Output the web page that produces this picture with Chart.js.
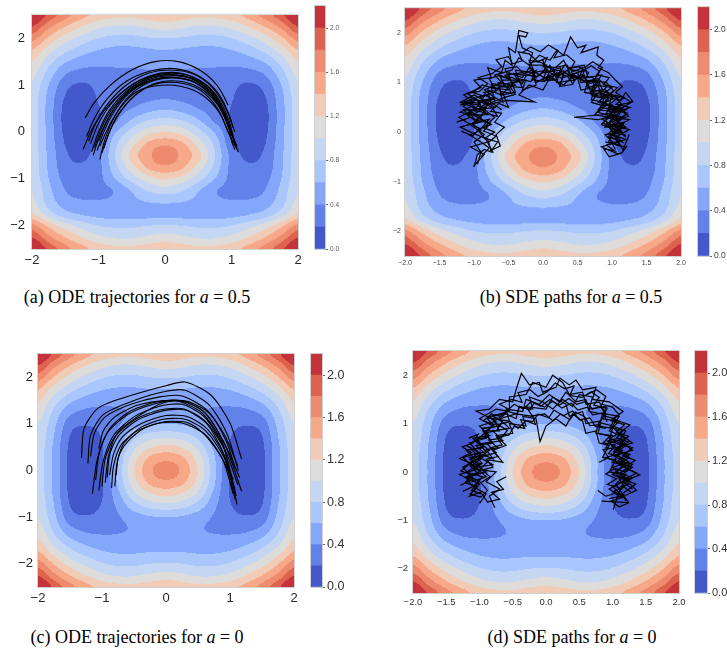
<!DOCTYPE html>
<html>
<head>
<meta charset="utf-8">
<script src="https://cdn.jsdelivr.net/npm/chart.js@4.4.0/dist/chart.umd.min.js"></script>
<style>
body { margin: 0; background: #fff; width: 727px; height: 663px; position: relative; overflow: hidden; }
canvas { position: absolute; }
.cap { position: absolute; font-family: "Liberation Serif", "Times New Roman", serif; font-size: 18px; line-height: 20px; color: #000; white-space: nowrap; transform: translateX(-50%); }
</style>
</head>
<body>
<canvas id="mainA" width="310" height="272" style="left:0;top:0"></canvas>
<canvas id="cbarA" width="45" height="272" style="left:310px;top:0"></canvas>
<canvas id="mainB" width="330" height="272" style="left:360px;top:0"></canvas>
<canvas id="cbarB" width="34" height="272" style="left:693px;top:0"></canvas>
<canvas id="mainC" width="305" height="270" style="left:0;top:340px"></canvas>
<canvas id="cbarC" width="50" height="270" style="left:306px;top:340px"></canvas>
<canvas id="mainD" width="330" height="270" style="left:360px;top:340px"></canvas>
<canvas id="cbarD" width="37" height="270" style="left:690px;top:340px"></canvas>
<div class="cap" style="left:137px;top:287px">(a) ODE trajectories for <i>a</i> = 0.5</div>
<div class="cap" style="left:571px;top:287px">(b) SDE paths for <i>a</i> = 0.5</div>
<div class="cap" style="left:137px;top:627px">(c) ODE trajectories for <i>a</i> = 0</div>
<div class="cap" style="left:572px;top:627px">(d) SDE paths for <i>a</i> = 0</div>
<script>
// contour levels (coolwarm, 11 bands of 0.2)
const levelBounds = [0, 0.2, 0.4, 0.6, 0.8, 1.0, 1.2, 1.4, 1.6, 1.8, 2.0, 2.2];
const levelColors = ['#4358cb', '#6282ea', '#84a7fc', '#a9c6fd', '#c5d6f2', '#dddcdb',
                     '#f2cbb7', '#f6a889', '#ee8a6d', '#de634f', '#c5333a'];
const cbarTicks = [0, 0.4, 0.8, 1.2, 1.6, 2.0];

const intTicksX = [-2, -1, 0, 1, 2];
const halfTicksX = [-2, -1.5, -1, -0.5, 0, 0.5, 1, 1.5, 2];
const ticksY = [-2, -1, 0, 1, 2];

// potential, right half only (x = 0 .. 2), mirrored about x = 0
const gridXs = [0, 0.25, 0.5, 0.75, 1, 1.25, 1.5, 1.75, 2];

// a = 0.5, rows y = -2.5 .. 2.5
const gridYsA05 = [-2.5, -2.25, -2, -1.75, -1.5, -1.25, -1, -0.75, -0.5, -0.25, 0,
                   0.25, 0.5, 0.75, 1, 1.25, 1.5, 1.75, 2, 2.25, 2.5];
const fieldA05 = [
  [1.35, 1.30, 1.25, 1.26, 1.32, 1.48, 1.68, 1.95, 2.30],
  [1.08, 1.04, 0.98, 0.98, 1.05, 1.20, 1.40, 1.66, 2.00],
  [0.82, 0.80, 0.76, 0.76, 0.80, 0.92, 1.08, 1.34, 1.66],
  [0.52, 0.52, 0.50, 0.50, 0.52, 0.58, 0.68, 0.90, 1.22],
  [0.62, 0.60, 0.55, 0.45, 0.42, 0.43, 0.50, 0.72, 1.05],
  [0.90, 0.82, 0.62, 0.42, 0.33, 0.32, 0.40, 0.66, 1.00],
  [1.22, 1.12, 0.88, 0.60, 0.34, 0.28, 0.34, 0.60, 0.95],
  [1.55, 1.44, 1.12, 0.74, 0.34, 0.23, 0.28, 0.57, 0.92],
  [1.75, 1.55, 1.28, 0.80, 0.34, 0.15, 0.24, 0.56, 0.92],
  [1.55, 1.44, 1.12, 0.74, 0.25, 0.07, 0.19, 0.54, 0.90],
  [1.20, 1.12, 0.88, 0.58, 0.20, 0.04, 0.15, 0.53, 0.90],
  [0.86, 0.80, 0.62, 0.36, 0.18, 0.03, 0.13, 0.52, 0.90],
  [0.58, 0.52, 0.40, 0.30, 0.19, 0.04, 0.14, 0.52, 0.90],
  [0.37, 0.34, 0.30, 0.27, 0.22, 0.07, 0.19, 0.54, 0.92],
  [0.30, 0.30, 0.29, 0.27, 0.25, 0.17, 0.27, 0.60, 0.97],
  [0.37, 0.37, 0.36, 0.35, 0.33, 0.33, 0.42, 0.72, 1.07],
  [0.47, 0.47, 0.45, 0.45, 0.46, 0.50, 0.62, 0.88, 1.20],
  [0.60, 0.58, 0.55, 0.55, 0.60, 0.70, 0.86, 1.10, 1.40],
  [0.80, 0.78, 0.74, 0.74, 0.80, 0.93, 1.10, 1.36, 1.68],
  [1.08, 1.04, 0.98, 0.98, 1.05, 1.20, 1.40, 1.66, 2.00],
  [1.35, 1.30, 1.25, 1.26, 1.32, 1.48, 1.68, 1.95, 2.30]
];

// a = 0, rows y = 0 .. 2.5, mirrored about y = 0
const gridYsA0 = [0, 0.25, 0.5, 0.75, 1, 1.25, 1.5, 1.75, 2, 2.25, 2.5];
const fieldA0 = [
  [1.75, 1.55, 1.20, 0.65, 0.17, 0.04, 0.14, 0.55, 0.90],
  [1.55, 1.45, 1.12, 0.64, 0.17, 0.04, 0.14, 0.55, 0.90],
  [1.27, 1.18, 0.95, 0.55, 0.18, 0.06, 0.16, 0.56, 0.92],
  [0.93, 0.88, 0.72, 0.45, 0.22, 0.10, 0.20, 0.60, 0.95],
  [0.60, 0.58, 0.50, 0.38, 0.27, 0.22, 0.29, 0.65, 1.00],
  [0.46, 0.46, 0.42, 0.37, 0.34, 0.35, 0.45, 0.75, 1.10],
  [0.50, 0.50, 0.48, 0.46, 0.47, 0.52, 0.65, 0.90, 1.22],
  [0.60, 0.60, 0.58, 0.58, 0.62, 0.72, 0.88, 1.12, 1.42],
  [0.82, 0.80, 0.76, 0.76, 0.82, 0.95, 1.12, 1.38, 1.70],
  [1.08, 1.04, 0.98, 0.98, 1.05, 1.20, 1.40, 1.66, 2.00],
  [1.35, 1.30, 1.25, 1.26, 1.32, 1.48, 1.68, 1.95, 2.30]
];

// (a) ODE trajectories, a = 0.5
const odeA05 = [
  [[-1.2,0.3],[-1.05,0.65],[-0.82,1.0],[-0.5,1.32],[-0.15,1.5],[0.2,1.5],[0.52,1.32],[0.78,1.0],[0.95,0.57]],
  [[-1.23,-0.37],[-1.1,0.05],[-0.9,0.48],[-0.62,0.88],[-0.3,1.15],[0.05,1.25],[0.4,1.18],[0.7,0.9],[0.92,0.4],[1.03,-0.1]],
  [[-1.06,-0.33],[-0.95,0.1],[-0.78,0.52],[-0.52,0.92],[-0.2,1.17],[0.15,1.22],[0.48,1.08],[0.75,0.72],[0.93,0.2],[1.02,-0.28]],
  [[-0.98,-0.59],[-0.9,-0.15],[-0.76,0.32],[-0.55,0.75],[-0.25,1.05],[0.1,1.15],[0.45,1.05],[0.74,0.7],[0.95,0.15],[1.1,-0.43]],
  [[-1.12,-0.25],[-1.0,0.18],[-0.82,0.58],[-0.55,0.95],[-0.22,1.2],[0.12,1.27],[0.45,1.15],[0.72,0.85],[0.9,0.4],[1.0,-0.05]],
  [[-0.95,-0.45],[-0.85,-0.05],[-0.7,0.38],[-0.45,0.78],[-0.15,1.02],[0.2,1.05],[0.52,0.9],[0.78,0.52],[0.95,0.0],[1.05,-0.38]],
  [[-0.98,-0.3],[-0.85,0.1],[-0.68,0.5],[-0.43,0.85],[-0.1,0.99],[0.25,0.97],[0.55,0.8],[0.8,0.45],[0.95,0.0],[1.08,-0.37]],
  [[-1.15,-0.2],[-1.03,0.22],[-0.85,0.62],[-0.58,1.0],[-0.25,1.25],[0.1,1.32],[0.45,1.22],[0.73,0.92],[0.93,0.45],[1.05,0.0]],
  [[-1.02,-0.4],[-0.92,0.0],[-0.77,0.42],[-0.52,0.85],[-0.2,1.1],[0.15,1.16],[0.48,1.04],[0.76,0.68],[0.94,0.2],[1.06,-0.25]],
  [[-1.08,-0.5],[-0.98,-0.08],[-0.83,0.35],[-0.6,0.78],[-0.28,1.1],[0.08,1.2],[0.42,1.12],[0.72,0.8],[0.92,0.3],[1.04,-0.2]],
  [[-0.92,-0.35],[-0.82,0.05],[-0.66,0.45],[-0.42,0.82],[-0.12,1.05],[0.22,1.08],[0.53,0.93],[0.8,0.56],[0.97,0.05],[1.08,-0.3]],
  [[-1.18,-0.1],[-1.05,0.32],[-0.86,0.72],[-0.58,1.08],[-0.22,1.3],[0.15,1.35],[0.5,1.2],[0.77,0.88],[0.95,0.42],[1.02,0.1]],
  [[-1.0,-0.2],[-0.88,0.2],[-0.72,0.58],[-0.48,0.92],[-0.16,1.13],[0.18,1.16],[0.5,1.02],[0.77,0.65],[0.95,0.15],[1.08,-0.33]],
  [[-1.1,-0.42],[-1.0,0.0],[-0.84,0.45],[-0.6,0.85],[-0.3,1.12],[0.05,1.22],[0.4,1.15],[0.7,0.85],[0.9,0.38],[1.02,-0.12]]
];

// (b) SDE paths, a = 0.5
const sdeA05 = [
  [[-0.95,-0.65],[-0.9,-0.4],[-1.0,-0.2],[-0.85,-0.05],[-1.05,0.15],[-0.9,0.3],[-1.1,0.45],[-0.85,0.4],[-0.95,0.65],[-0.75,0.55],[-0.8,0.85],[-0.6,0.75],[-0.65,1.0],[-0.45,0.95],[-0.5,1.2],[-0.3,1.1],[-0.2,1.3],[-0.05,1.15],[0.1,1.35],[0.2,1.1],[0.35,1.25],[0.45,1.05],[0.6,1.15],[0.65,0.9],[0.8,0.95],[0.85,0.7],[1.0,0.75],[0.95,0.5],[1.15,0.45],[1.05,0.25],[1.2,0.1],[1.0,0.0],[1.15,-0.2],[0.95,-0.1],[1.05,-0.35]],
  [[-1.2,0.55],[-1.0,0.6],[-1.15,0.75],[-0.9,0.9],[-1.0,1.05],[-0.75,1.1],[-0.8,1.3],[-0.6,1.2],[-0.55,1.45],[-0.45,1.35],[-0.5,1.7],[-0.4,1.6],[-0.35,2.05],[-0.22,2.0],[-0.25,1.92],[-0.35,1.95],[-0.3,1.7],[-0.15,1.6],[-0.2,1.4],[0.0,1.45],[0.05,1.2],[0.25,1.3],[0.3,1.1],[0.5,1.2],[0.55,1.0],[0.75,1.05],[0.7,0.8],[0.9,0.75],[0.85,0.55],[1.1,0.5],[1.0,0.3],[1.25,0.25],[1.05,0.1],[1.2,-0.1]],
  [[-0.85,0.1],[-0.7,0.3],[-0.9,0.5],[-0.7,0.7],[-0.85,0.85],[-0.6,1.0],[-0.7,1.15],[-0.45,1.25],[-0.35,1.5],[-0.2,1.35],[-0.05,1.55],[0.1,1.45],[0.2,1.65],[0.3,1.55],[0.4,1.92],[0.5,1.7],[0.62,1.75],[0.55,1.6],[0.8,1.72],[0.78,1.55],[0.88,1.45],[0.8,1.3],[0.95,1.2],[1.05,1.05],[1.15,0.92],[1.05,0.8],[1.28,0.6],[1.1,0.55],[1.2,0.35],[1.0,0.2],[1.15,0.0],[0.9,-0.05],[1.05,-0.25],[1.2,-0.3]],
  [[-1.0,-0.7],[-0.95,-0.45],[-0.85,-0.35],[-0.75,-0.4],[-0.8,-0.15],[-1.05,0.0],[-1.2,0.1],[-0.95,0.2],[-1.1,0.35],[-0.8,0.35],[-0.95,0.55],[-1.15,0.6],[-0.85,0.75],[-0.7,0.65],[-0.75,0.9],[-0.5,0.85],[-0.6,1.05],[-0.35,1.05],[-0.4,1.25],[-0.15,1.2],[-0.1,1.0],[0.1,1.15],[0.25,0.95],[0.3,1.2],[0.5,1.1],[0.55,0.85],[0.75,0.9],[0.7,0.65],[0.9,0.6],[0.75,0.35],[0.95,0.3],[0.85,0.15],[1.05,0.05],[0.95,-0.2],[1.15,-0.3]],
  [[-1.25,0.2],[-1.05,0.3],[-1.15,0.45],[-0.9,0.45],[-1.2,0.6],[-1.0,0.75],[-0.8,0.6],[-0.95,0.45],[-0.7,0.5],[-0.9,0.7],[-0.65,0.85],[-0.75,0.95],[-0.5,0.9],[-0.6,0.75],[-0.4,0.8],[-0.45,1.0],[-0.25,1.05],[-0.3,0.85],[-0.1,0.95],[-0.15,1.2],[0.05,1.25],[0.0,1.05],[0.2,1.05],[0.15,1.3],[0.35,1.35],[0.4,1.15],[0.6,1.25],[0.55,1.05],[0.8,1.0],[0.7,0.85],[0.95,0.8],[0.8,0.6],[1.0,0.55],[0.9,0.35],[1.15,0.3],[1.0,0.15],[1.25,0.05],[1.05,-0.1],[1.1,-0.25],[0.9,-0.2]],
  [[-0.6,0.45],[-0.75,0.6],[-0.55,0.7],[-0.65,0.9],[-0.4,0.95],[-0.55,1.15],[-0.3,1.2],[-0.1,1.1],[-0.2,1.35],[0.05,1.35],[0.0,1.2],[0.25,1.25],[0.2,1.0],[0.45,1.05],[0.4,1.3],[0.6,1.35],[0.65,1.1],[0.85,1.15],[0.75,0.95],[1.0,0.9],[0.85,0.75],[1.1,0.7],[0.95,0.55],[1.2,0.45],[0.85,0.35],[0.45,0.3],[0.8,0.25],[1.05,0.35],[0.9,0.1],[1.15,0.15],[1.0,-0.05],[1.2,-0.15],[0.85,-0.3],[1.1,-0.45]],
  [[-1.01,-0.69],[-0.85,-0.45],[-1.05,-0.3],[-0.8,-0.2],[-0.95,0.05],[-0.75,0.15],[-1.0,0.35],[-0.8,0.55],[-0.53,0.64],[-0.12,0.61],[-0.35,0.75],[-0.2,0.95],[0.0,0.85],[0.1,1.1],[0.3,0.95],[0.45,1.15],[0.65,1.0],[0.7,0.75],[0.95,0.7],[0.8,0.45],[1.1,0.4],[0.95,0.15],[1.16,-0.36],[1.25,-0.05]],
  [[-1.1,0.35],[-0.98,0.5],[-1.12,0.62],[-0.93,0.58],[-0.85,0.72],[-1.02,0.8],[-0.88,0.95],[-0.7,0.88],[-0.78,1.08],[-0.62,1.15],[-0.48,1.05],[-0.55,1.28],[-0.38,1.32],[-0.28,1.18],[-0.14,1.26],[-0.2,1.45],[-0.02,1.4],[0.12,1.28],[0.05,1.1],[0.22,1.16],[0.32,1.36],[0.44,1.22],[0.58,1.3],[0.52,1.08],[0.7,1.12],[0.82,0.98],[0.72,0.82],[0.9,0.86],[1.02,0.68],[0.88,0.58],[1.08,0.48],[0.98,0.36],[1.16,0.3],[1.04,0.12],[0.92,0.2],[1.0,0.0]],
  [[-0.72,-0.42],[-0.8,-0.22],[-0.68,-0.08],[-0.86,0.02],[-0.76,0.18],[-0.98,0.24],[-0.84,0.38],[-0.66,0.32],[-0.74,0.5],[-0.92,0.62],[-0.7,0.7],[-0.58,0.6],[-0.62,0.82],[-0.46,0.78],[-0.52,0.98],[-0.36,1.02],[-0.42,1.18],[-0.24,1.14],[-0.1,1.24],[-0.16,1.06],[0.02,1.02],[0.14,1.18],[0.28,1.08],[0.24,0.92],[0.42,0.96],[0.5,1.12],[0.64,0.98],[0.6,0.8],[0.78,0.76],[0.7,0.6],[0.9,0.52],[0.8,0.4],[0.98,0.32],[0.86,0.18],[1.06,0.1],[0.94,-0.04],[1.12,-0.12]],
  [[-1.18,0.02],[-1.02,-0.08],[-0.92,0.08],[-1.08,0.18],[-1.22,0.3],[-1.04,0.42],[-1.16,0.52],[-0.96,0.66],[-1.1,0.78],[-0.92,0.82],[-0.8,0.98],[-0.94,1.1],[-0.74,1.18],[-0.6,1.32],[-0.68,1.46],[-0.5,1.52],[-0.44,1.38],[-0.3,1.44],[-0.36,1.62],[-0.2,1.58],[-0.08,1.42],[0.06,1.5],[0.0,1.32],[0.18,1.3],[0.3,1.45],[0.36,1.28],[0.52,1.32],[0.66,1.2],[0.6,1.02],[0.8,1.08],[0.92,0.92],[0.84,0.78],[1.04,0.72],[1.14,0.56],[1.0,0.46],[1.22,0.38],[1.08,0.22],[1.18,0.06]],
  [[-1.05,0.7],[-0.9,0.6],[-1.0,0.45],[-0.82,0.5],[-0.9,0.32],[-1.06,0.38],[-0.96,0.2],[-0.78,0.26],[-0.88,0.1],[-0.7,0.0],[-0.84,-0.12],[-0.66,-0.2],[-0.74,-0.36],[-0.62,-0.28],[-0.68,-0.05],[-0.56,0.1],[-0.7,0.2],[-0.6,0.38],[-0.76,0.42],[-0.64,0.58],[-0.5,0.5],[-0.56,0.7],[-0.4,0.76],[-0.48,0.92],[-0.3,0.9],[-0.36,1.08],[-0.18,1.02],[-0.06,1.16],[0.1,1.04],[0.2,1.2],[0.36,1.12],[0.44,0.96]],
  [[0.6,1.3],[0.72,1.42],[0.86,1.3],[0.78,1.16],[0.96,1.1],[0.88,0.96],[1.08,0.9],[0.98,0.76],[1.18,0.7],[1.06,0.56],[1.26,0.5],[1.12,0.42],[0.94,0.48],[1.02,0.3],[0.86,0.26],[1.0,0.14],[1.18,0.2],[1.1,0.02],[0.96,-0.08],[1.1,-0.18],[0.92,-0.26],[1.04,-0.38],[0.88,-0.34],[0.96,-0.5],[1.14,-0.42],[1.22,-0.28]],
  [[-0.3,1.6],[-0.18,1.72],[-0.04,1.62],[0.08,1.76],[0.22,1.64],[0.16,1.5],[0.34,1.56],[0.46,1.42],[0.4,1.26],[0.56,1.22],[0.7,1.34],[0.82,1.22],[0.74,1.04],[0.92,1.0],[1.02,0.84],[0.92,0.7],[1.12,0.64],[1.2,0.8],[1.3,0.62],[1.14,0.48],[1.24,0.32],[1.06,0.24],[1.16,0.1],[1.02,-0.02],[1.2,-0.06]],
  [[-0.9,-0.5],[-0.78,-0.32],[-0.92,-0.18],[-1.06,-0.06],[-0.9,0.04],[-1.02,0.16],[-0.86,0.22],[-1.0,0.34],[-1.2,0.4],[-1.04,0.52],[-0.86,0.44],[-0.94,0.6],[-0.74,0.66],[-0.86,0.8],[-0.68,0.84],[-0.74,0.98],[-0.56,0.94],[-0.62,1.12],[-0.44,1.1],[-0.3,0.98],[-0.24,1.16],[-0.08,1.12],[0.04,1.28],[0.16,1.14],[0.3,1.24],[0.42,1.08],[0.56,1.16],[0.68,0.98],[0.8,1.04],[0.86,0.86],[0.74,0.72],[0.94,0.66],[0.84,0.5],[1.04,0.44],[0.92,0.3],[1.1,0.22],[0.98,0.06]]
];

// (c) ODE trajectories, a = 0
const odeA0 = [
  [[-1.32,0.27],[-1.28,0.9],[-1.05,1.35],[-0.5,1.63],[0.0,1.82],[0.3,1.9],[0.7,1.62],[1.0,1.02],[1.18,0.25]],
  [[-1.22,0.15],[-1.18,0.75],[-0.98,1.2],[-0.5,1.5],[0.0,1.7],[0.3,1.72],[0.68,1.4],[0.95,0.8],[1.13,0.0]],
  [[-1.15,-0.5],[-1.08,0.2],[-0.92,0.8],[-0.6,1.2],[-0.2,1.42],[0.15,1.5],[0.55,1.25],[0.88,0.6],[1.11,-0.73]],
  [[-1.05,-0.43],[-0.98,0.2],[-0.82,0.75],[-0.5,1.15],[-0.1,1.38],[0.25,1.42],[0.6,1.15],[0.9,0.5],[1.06,-0.34]],
  [[-0.95,-0.26],[-0.9,0.3],[-0.76,0.8],[-0.45,1.15],[-0.05,1.45],[0.3,1.48],[0.65,1.18],[0.95,0.45],[1.18,-0.44]],
  [[-0.8,-0.34],[-0.76,0.2],[-0.65,0.6],[-0.4,0.92],[-0.05,1.1],[0.3,1.1],[0.62,0.85],[0.9,0.3],[1.05,-0.2]],
  [[-1.05,0.47],[-0.98,0.85],[-0.8,1.15],[-0.45,1.4],[0.0,1.5],[0.35,1.48],[0.7,1.2],[0.95,0.6],[1.08,0.05]],
  [[-0.88,-0.1],[-0.82,0.35],[-0.68,0.72],[-0.4,1.0],[0.0,1.18],[0.35,1.15],[0.65,0.88],[0.92,0.3],[1.1,-0.55]],
  [[-1.0,-0.35],[-0.95,0.25],[-0.8,0.72],[-0.5,1.08],[-0.1,1.3],[0.28,1.32],[0.62,1.05],[0.93,0.42],[1.12,-0.3]],
  [[-0.85,-0.38],[-0.82,0.1],[-0.7,0.55],[-0.45,0.85],[-0.1,1.02],[0.25,1.02],[0.58,0.8],[0.88,0.25],[1.05,-0.5]],
  [[-1.18,0.3],[-1.12,0.8],[-0.95,1.15],[-0.55,1.42],[-0.1,1.58],[0.25,1.6],[0.62,1.32],[0.92,0.75],[1.12,0.1]],
  [[-0.92,-0.15],[-0.88,0.35],[-0.74,0.75],[-0.45,1.08],[-0.05,1.28],[0.3,1.3],[0.64,1.0],[0.9,0.35],[1.08,-0.62]],
  [[-1.1,-0.2],[-1.04,0.4],[-0.88,0.9],[-0.55,1.28],[-0.12,1.48],[0.22,1.5],[0.58,1.28],[0.9,0.62],[1.15,-0.15]],
  [[-0.78,-0.1],[-0.74,0.3],[-0.6,0.62],[-0.35,0.9],[0.0,1.05],[0.35,1.02],[0.65,0.72],[0.92,0.15],[1.08,-0.42]]
];

// (d) SDE paths, a = 0
const sdeA0 = [
  [[-1.0,-0.65],[-0.9,-0.45],[-1.1,-0.3],[-0.95,-0.1],[-1.2,0.0],[-1.0,0.15],[-1.15,0.3],[-0.9,0.35],[-1.05,0.55],[-0.8,0.6],[-0.95,0.85],[-0.7,0.85],[-0.8,1.1],[-0.55,1.05],[-0.6,1.3],[-0.35,1.25],[-0.3,1.5],[-0.1,1.4],[0.05,1.6],[0.2,1.45],[0.3,1.65],[0.45,1.45],[0.6,1.5],[0.65,1.25],[0.85,1.2],[0.8,0.95],[1.0,0.9],[0.95,0.65],[1.15,0.55],[1.0,0.35],[1.2,0.2],[1.05,0.0],[1.25,-0.15],[1.0,-0.3],[1.15,-0.5],[0.95,-0.55]],
  [[-1.29,-0.28],[-1.1,-0.15],[-1.25,0.1],[-1.05,0.25],[-1.2,0.45],[-0.95,0.5],[-1.1,0.7],[-0.85,0.75],[-1.0,0.95],[-0.75,1.05],[-1.05,1.26],[-0.85,1.3],[-0.7,1.5],[-0.5,1.45],[-0.45,1.7],[-0.37,2.04],[-0.25,1.8],[-0.1,1.85],[-0.05,1.65],[0.15,1.75],[0.21,1.94],[0.35,1.8],[0.45,1.9],[0.55,1.7],[0.75,1.75],[0.7,1.5],[0.95,1.45],[1.16,1.25],[1.0,1.1],[1.26,0.97],[1.1,0.8],[1.3,0.6],[1.05,0.5],[1.25,0.3],[1.1,0.15],[1.41,-0.06],[1.15,-0.2],[1.3,-0.35]],
  [[-0.77,-0.74],[-0.85,-0.5],[-0.7,-0.35],[-0.9,-0.2],[-0.75,0.0],[-1.0,0.05],[-0.85,0.25],[-0.65,0.2],[-0.8,0.45],[-0.6,0.55],[-0.75,0.75],[-0.5,0.8],[-0.55,1.0],[-0.3,0.95],[-0.35,1.15],[-0.15,1.1],[-0.09,0.63],[0.0,0.95],[0.15,1.1],[0.3,0.95],[0.4,1.2],[0.55,1.05],[0.6,0.8],[0.75,0.85],[0.8,0.6],[0.95,0.55],[0.85,0.3],[1.05,0.25],[0.95,0.0],[1.2,-0.05],[1.05,-0.25],[1.24,-0.63],[0.84,-0.6]],
  [[-1.1,0.15],[-0.95,0.3],[-1.15,0.6],[-0.9,0.7],[-0.95,0.9],[-0.7,0.95],[-0.85,1.15],[-0.6,1.2],[-0.45,1.1],[-0.4,1.35],[-0.2,1.3],[-0.25,1.55],[-0.05,1.45],[0.1,1.3],[0.25,1.5],[0.4,1.35],[0.5,1.6],[0.7,1.55],[0.65,1.3],[0.9,1.35],[0.85,1.1],[1.1,1.05],[0.95,0.85],[1.2,0.7],[0.95,0.6],[1.15,0.4],[0.9,0.3],[1.2,0.15],[1.0,-0.05],[1.25,-0.2],[1.1,-0.4],[1.01,-0.78]],
  [[-1.2,0.55],[-1.0,0.4],[-1.25,0.3],[-1.05,0.05],[-1.3,-0.05],[-1.1,-0.2],[-0.9,-0.1],[-1.05,0.1],[-0.8,0.15],[-1.0,0.3],[-0.75,0.4],[-0.9,0.6],[-0.65,0.65],[-0.8,0.85],[-0.55,0.9],[-0.7,1.1],[-0.45,1.2],[-0.2,1.15],[-0.3,1.35],[0.0,1.3],[0.1,1.55],[0.3,1.4],[0.35,1.15],[0.55,1.25],[0.6,1.0],[0.8,1.05],[0.75,0.8],[1.0,0.75],[0.9,0.5],[1.15,0.45],[1.0,0.2],[1.3,0.1],[1.1,-0.1],[1.35,-0.25],[1.15,-0.45],[1.2,-0.6]],
  [[-0.95,-0.4],[-1.15,-0.5],[-1.0,-0.25],[-1.2,-0.1],[-0.9,0.0],[-1.1,0.2],[-0.85,0.45],[-1.05,0.65],[-0.8,0.95],[-1.0,1.1],[-0.75,1.3],[-0.55,1.25],[-0.55,1.55],[-0.3,1.6],[-0.2,1.85],[0.0,1.75],[0.1,2.0],[0.25,1.85],[0.35,1.6],[0.55,1.65],[0.6,1.4],[0.8,1.45],[0.9,1.2],[1.1,1.15],[1.0,0.95],[1.2,0.85],[1.1,0.65],[1.3,0.45],[1.05,0.35],[1.25,0.2],[1.0,0.1],[1.2,-0.15],[0.95,-0.35],[1.15,-0.55]],
  [[-1.25,-0.4],[-1.1,-0.3],[-1.2,-0.12],[-1.02,-0.04],[-1.14,0.12],[-0.96,0.18],[-1.08,0.36],[-0.9,0.42],[-1.0,0.58],[-0.82,0.62],[-0.92,0.8],[-0.74,0.86],[-0.66,1.04],[-0.8,1.16],[-0.6,1.24],[-0.48,1.4],[-0.34,1.3],[-0.22,1.46],[-0.08,1.36],[0.06,1.5],[0.2,1.38],[0.34,1.52],[0.46,1.4],[0.6,1.46],[0.7,1.3],[0.82,1.36],[0.9,1.18],[0.8,1.02],[0.98,0.96],[1.1,0.8],[0.96,0.7],[1.14,0.58],[1.02,0.42],[1.2,0.36],[1.06,0.2],[1.26,0.12],[1.12,-0.02],[1.3,-0.12],[1.14,-0.28],[1.28,-0.42]],
  [[-0.9,0.85],[-0.78,0.98],[-0.94,1.06],[-0.82,1.2],[-0.66,1.14],[-0.56,1.3],[-0.7,1.4],[-0.52,1.5],[-0.36,1.44],[-0.42,1.64],[-0.24,1.7],[-0.12,1.56],[0.02,1.66],[0.14,1.84],[0.28,1.72],[0.42,1.78],[0.36,1.58],[0.54,1.54],[0.68,1.66],[0.8,1.54],[0.72,1.38],[0.92,1.32],[0.86,1.16],[1.04,1.1],[0.96,0.92],[1.16,0.86],[1.06,0.7],[1.24,0.62],[1.1,0.5],[1.0,0.34]],
  [[-1.16,0.7],[-1.02,0.78],[-1.1,0.6],[-1.26,0.52],[-1.12,0.4],[-1.3,0.28],[-1.14,0.18],[-1.28,0.02],[-1.1,-0.06],[-1.22,-0.22],[-1.04,-0.3],[-1.14,-0.46],[-0.98,-0.52],[-0.88,-0.38],[-0.98,-0.22],[-0.84,-0.1],[-0.96,0.04],[-0.8,0.1],[-0.9,0.26],[-0.72,0.32],[-0.84,0.5],[-0.66,0.56],[-0.74,0.72],[-0.56,0.76],[-0.48,0.94],[-0.32,0.9],[-0.38,1.08],[-0.2,1.04],[-0.12,1.2],[0.04,1.12],[0.12,1.28],[0.26,1.16],[0.4,1.26],[0.5,1.08],[0.66,1.12],[0.74,0.94],[0.9,0.9]],
  [[0.62,1.6],[0.76,1.7],[0.9,1.56],[0.84,1.4],[1.0,1.34],[1.1,1.18],[0.98,1.06],[1.18,0.98],[1.06,0.82],[1.24,0.74],[1.12,0.58],[1.3,0.5],[1.16,0.34],[1.34,0.24],[1.18,0.1],[1.36,-0.02],[1.2,-0.14],[1.06,-0.06],[1.18,-0.3],[1.02,-0.4],[1.16,-0.52],[0.98,-0.6],[1.1,-0.72],[1.24,-0.64]],
  [[-0.6,-0.1],[-0.74,-0.2],[-0.64,-0.36],[-0.82,-0.42],[-0.7,-0.56],[-0.88,-0.62],[-0.96,-0.46],[-1.12,-0.38],[-1.0,-0.2],[-1.16,-0.08],[-1.0,0.0],[-1.14,0.2],[-0.98,0.3],[-1.12,0.46],[-0.94,0.52],[-1.04,0.68],[-0.86,0.72],[-0.96,0.9],[-0.78,0.94],[-0.88,1.1],[-0.7,1.12],[-0.6,1.26],[-0.44,1.2],[-0.4,1.36],[-0.24,1.28],[-0.18,1.42],[-0.02,1.34],[0.1,1.46],[0.24,1.32],[0.38,1.42],[0.48,1.28],[0.62,1.34],[0.7,1.18],[0.86,1.22],[0.92,1.04]],
  [[0.8,0.2],[0.94,0.3],[0.86,0.46],[1.02,0.5],[0.92,0.64],[1.1,0.7],[1.22,0.56],[1.08,0.44],[1.26,0.36],[1.12,0.22],[1.3,0.16],[1.18,0.0],[1.04,0.08],[0.9,-0.04],[1.06,-0.14],[0.92,-0.26],[1.1,-0.32],[1.26,-0.24],[1.36,-0.38],[1.2,-0.48],[1.04,-0.44],[0.9,-0.5],[0.78,-0.38]],
  [[-1.1,0.05],[-0.98,0.16],[-1.14,0.26],[-0.96,0.36],[-0.8,0.28],[-0.9,0.46],[-0.72,0.5],[-0.86,0.66],[-0.68,0.7],[-0.58,0.86],[-0.72,0.98],[-0.54,1.04],[-0.42,0.9],[-0.3,1.06],[-0.16,0.98],[-0.2,1.16],[-0.02,1.2],[0.1,1.06],[0.22,1.2],[0.36,1.08],[0.44,1.24],[0.58,1.14],[0.66,0.96],[0.82,0.98],[0.78,0.8],[0.96,0.74],[0.86,0.6],[1.04,0.56],[0.94,0.38],[1.12,0.32]]
];

const SANS = '"Liberation Sans", Arial, sans-serif';
const minus = v => (v < 0 ? '\u2212' : '') + Math.abs(v);
const minus1 = v => (v < 0 ? '\u2212' : '') + Math.abs(v).toFixed(1);

// mirror the right-half grids into full grids
function mirrorRow(row) { return row.slice(1).reverse().concat(row); }
const fullXs = gridXs.slice(1).reverse().map(v => -v).concat(gridXs);
const gridA05 = { xs: fullXs, ys: gridYsA05, z: fieldA05.map(mirrorRow) };
const a0Rows = fieldA0.map(mirrorRow);
const gridA0 = {
    xs: fullXs,
    ys: gridYsA0.slice(1).reverse().map(v => -v).concat(gridYsA0),
    z: a0Rows.slice(1).reverse().concat(a0Rows)
};

function sampleGrid(g, x, y) {
    const dx = g.xs[1] - g.xs[0], dy = g.ys[1] - g.ys[0];
    const fx = (x - g.xs[0]) / dx, fy = (y - g.ys[0]) / dy;
    const i = Math.floor(fx), j = Math.floor(fy);
    const tx = fx - i, ty = fy - j;
    const get = (r, c) => g.z[Math.max(0, Math.min(g.ys.length - 1, r))][Math.max(0, Math.min(g.xs.length - 1, c))];
    const cr = (p0, p1, p2, p3, t) => p1 + 0.5 * t * (p2 - p0 + t * (2 * p0 - 5 * p1 + 4 * p2 - p3 + t * (3 * (p1 - p2) + p3 - p0)));
    const rows = [];
    for (let m = -1; m <= 2; m++) {
        rows.push(cr(get(j + m, i - 1), get(j + m, i), get(j + m, i + 1), get(j + m, i + 2), tx));
    }
    return cr(rows[0], rows[1], rows[2], rows[3], ty);
}

const rgb = levelColors.map(c => [1, 3, 5].map(k => parseInt(c.substr(k, 2), 16)));

const contourPlugin = {
    id: 'contour',
    beforeDatasetsDraw(chart, args, opts) {
        const { ctx, chartArea: a, scales } = chart;
        const w = Math.round(a.right - a.left), h = Math.round(a.bottom - a.top);
        const off = document.createElement('canvas');
        off.width = w; off.height = h;
        const octx = off.getContext('2d');
        const img = octx.createImageData(w, h);
        for (let j = 0; j < h; j++) {
            const vy = scales.y.getValueForPixel(a.top + j + 0.5);
            for (let i = 0; i < w; i++) {
                const vx = scales.x.getValueForPixel(a.left + i + 0.5);
                const v = sampleGrid(opts.grid, vx, vy);
                let k = Math.floor(v / 0.2);
                k = Math.max(0, Math.min(levelColors.length - 1, k));
                const p = (j * w + i) * 4;
                img.data[p] = rgb[k][0]; img.data[p + 1] = rgb[k][1]; img.data[p + 2] = rgb[k][2]; img.data[p + 3] = 255;
            }
        }
        octx.putImageData(img, 0, 0);
        ctx.drawImage(off, a.left, a.top);
    }
};

const framePlugin = {
    id: 'frame',
    afterDraw(chart) {
        const { ctx, chartArea: a } = chart;
        ctx.save();
        ctx.strokeStyle = '#d0d0d0';
        ctx.lineWidth = 1;
        ctx.strokeRect(a.left - 0.5, a.top - 0.5, a.right - a.left + 1, a.bottom - a.top + 1);
        ctx.restore();
    }
};

function makeMain(id, grid, paths, o) {
    return new Chart(document.getElementById(id), {
        type: 'scatter',
        data: {
            datasets: paths.map(p => ({
                data: p.map(([x, y]) => ({ x, y })),
                showLine: true,
                borderColor: '#000',
                borderWidth: o.lineW,
                pointRadius: 0,
                tension: o.tension,
                fill: false
            }))
        },
        options: {
            responsive: false,
            devicePixelRatio: 1,
            animation: false,
            events: [],
            layout: { padding: o.pad },
            plugins: { legend: { display: false }, tooltip: { enabled: false }, contour: { grid } },
            scales: {
                x: {
                    type: 'linear', min: -2, max: 2,
                    afterBuildTicks: s => { s.ticks = o.xTicks.map(v => ({ value: v })); },
                    afterFit: s => { s.height = o.xH; },
                    grid: { display: false, drawTicks: false },
                    border: { display: false },
                    ticks: { font: { family: SANS, size: o.font }, color: o.color, padding: o.xPad, maxRotation: 0, autoSkip: false, callback: o.xFmt }
                },
                y: {
                    type: 'linear', min: -2.5, max: 2.5,
                    afterBuildTicks: s => { s.ticks = ticksY.map(v => ({ value: v })); },
                    afterFit: s => { s.width = o.yW; },
                    grid: { display: false, drawTicks: false },
                    border: { display: false },
                    ticks: { font: { family: SANS, size: o.font }, color: o.color, padding: o.yPad, autoSkip: false, callback: v => minus(v) }
                }
            }
        },
        plugins: [contourPlugin, framePlugin]
    });
}

function makeColorbar(id, o) {
    return new Chart(document.getElementById(id), {
        type: 'bar',
        data: {
            labels: [''],
            datasets: levelColors.map((c, k) => ({
                data: [[levelBounds[k], levelBounds[k + 1]]],
                backgroundColor: c,
                borderWidth: 0,
                grouped: false,
                barPercentage: 1,
                categoryPercentage: 1
            }))
        },
        options: {
            responsive: false,
            devicePixelRatio: 1,
            animation: false,
            events: [],
            layout: { padding: o.pad },
            plugins: { legend: { display: false }, tooltip: { enabled: false } },
            scales: {
                x: { display: false },
                y: {
                    position: 'right', min: 0, max: 2.2,
                    afterBuildTicks: s => { s.ticks = cbarTicks.map(v => ({ value: v })); },
                    afterFit: s => { s.width = o.yW; },
                    grid: { drawOnChartArea: false, drawTicks: true, tickLength: 3, color: '#666' },
                    border: { display: false },
                    ticks: { font: { family: SANS, size: o.font }, color: o.color, padding: 2, callback: v => v.toFixed(1) }
                }
            }
        },
        plugins: [framePlugin]
    });
}

// (a)
makeMain('mainA', gridA05, odeA05, {
    pad: { left: 0, top: 3, right: 12, bottom: 0 }, yW: 32, xH: 23,
    font: 13, color: '#262626', xPad: 4, yPad: 7,
    xTicks: intTicksX, xFmt: v => minus(v), lineW: 1.1, tension: 0.4
});
makeColorbar('cbarA', { pad: { left: 5, top: 3, right: 0, bottom: 23 }, yW: 30, font: 6.5, color: '#555' });

// (b)
makeMain('mainB', gridA05, sdeA05, {
    pad: { left: 0, top: 3, right: 9, bottom: 0 }, yW: 45, xH: 16,
    font: 7, color: '#444', xPad: 3, yPad: 4,
    xTicks: halfTicksX, xFmt: v => minus1(v), lineW: 1.2, tension: 0
});
makeColorbar('cbarB', { pad: { left: 5, top: 3, right: 0, bottom: 16 }, yW: 18, font: 8.5, color: '#444' });

// (c)
makeMain('mainC', gridA0, odeA0, {
    pad: { left: 0, top: 14, right: 11, bottom: 0 }, yW: 38, xH: 23,
    font: 13, color: '#262626', xPad: 4, yPad: 5,
    xTicks: intTicksX, xFmt: v => minus(v), lineW: 1.1, tension: 0.25
});
makeColorbar('cbarC', { pad: { left: 5, top: 14, right: 0, bottom: 23 }, yW: 34, font: 12.5, color: '#333' });

// (d)
makeMain('mainD', gridA0, sdeA0, {
    pad: { left: 0, top: 11, right: 11, bottom: 0 }, yW: 53, xH: 17,
    font: 9.5, color: '#333', xPad: 4, yPad: 5,
    xTicks: halfTicksX, xFmt: v => minus1(v), lineW: 1.2, tension: 0
});
makeColorbar('cbarD', { pad: { left: 5, top: 11, right: 0, bottom: 17 }, yW: 20, font: 11, color: '#333' });
</script>
</body>
</html>
